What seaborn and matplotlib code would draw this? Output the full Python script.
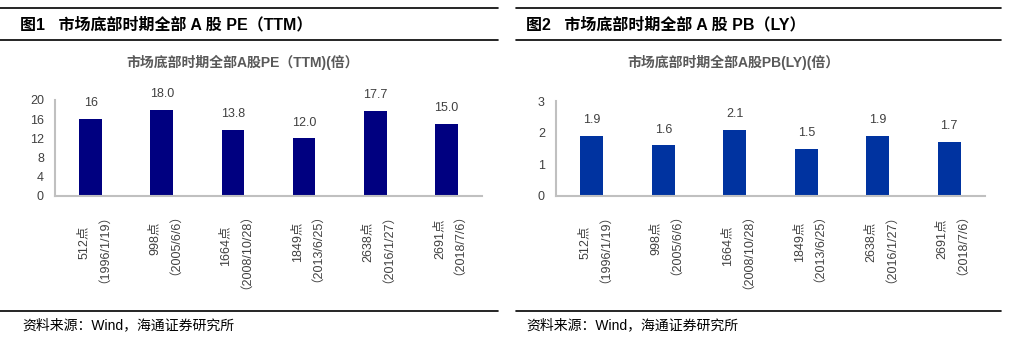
import matplotlib
matplotlib.use("Agg")
import matplotlib.pyplot as plt
import seaborn as sns
import pandas as pd
from matplotlib.lines import Line2D

sns.set_theme(style="white")
plt.rcParams['font.family'] = ['Liberation Sans', 'Noto Sans CJK SC', 'DejaVu Sans']

categories = ["512点\n（1996/1/19）", "998点\n（2005/6/6）", "1664点\n（2008/10/28）",
              "1849点\n（2013/6/25）", "2638点\n（2016/1/27）", "2691点\n（2018/7/6）"]
pe_values = [16, 18.0, 13.8, 12.0, 17.7, 15.0]
pe_labels = ["16", "18.0", "13.8", "12.0", "17.7", "15.0"]
pb_values = [1.9, 1.6, 2.1, 1.5, 1.9, 1.7]
pb_labels = ["1.9", "1.6", "2.1", "1.5", "1.9", "1.7"]
pe_ticks = [0, 4, 8, 12, 16, 20]
pb_ticks = [0, 1, 2, 3]

W, H = 1032, 345
fig = plt.figure(figsize=(W / 100, H / 100), dpi=100)

def px_axes(x0, y_top, x1, y_bot):
    return fig.add_axes([x0 / W, (H - y_bot) / H, (x1 - x0) / W, (y_bot - y_top) / H])

def hline(x0, x1, y, lw=1.2):
    fig.add_artist(Line2D([x0 / W, x1 / W], [(H - y) / H, (H - y) / H],
                          color="black", lw=lw, transform=fig.transFigure))

def panel(ax, values, labels, ticks, color, ymax):
    df = pd.DataFrame({"cat": categories, "val": values})
    sns.barplot(data=df, x="cat", y="val", color=color, width=0.32, ax=ax,
                saturation=1, edgecolor="none")
    ax.set_ylim(0, ymax)
    ax.set_xlim(-0.5, len(categories) - 0.5)
    ax.set_yticks(ticks)
    ax.set_xlabel("")
    ax.set_ylabel("")
    for i, (v, lab) in enumerate(zip(values, labels)):
        ax.annotate(lab, (i, v), xytext=(0, 7), textcoords="offset points",
                    ha="center", va="bottom", fontsize=9, color="#404040")
    for s in ["top", "right"]:
        ax.spines[s].set_visible(False)
    for s in ["left", "bottom"]:
        ax.spines[s].set_color("#c0c0c0")
        ax.spines[s].set_linewidth(1.5)
    ax.tick_params(axis="y", length=0, labelsize=9, labelcolor="#404040", pad=8)
    ax.tick_params(axis="x", which="major", length=0, pad=4)
    ax.set_xticks([i + 0.5 for i in range(-1, len(categories))], minor=True)
    ax.tick_params(axis="x", which="minor", length=4, color="#c0c0c0", width=1.2)
    for t in ax.get_xticklabels():
        t.set_rotation(90)
        t.set_fontsize(9)
        t.set_color("#404040")
        t.set_ha("center")
        t.set_va("top")
        t.set_multialignment("center")
        t.set_linespacing(1.25)

# Left panel
hline(0, 498, 8)
hline(0, 498, 40)
fig.text(20 / W, 1 - 25 / H, "图1   市场底部时期全部 A 股 PE（TTM）", fontsize=11.5,
         fontweight="bold", va="center", ha="left", color="black")
fig.text(243 / W, 1 - 62 / H, "市场底部时期全部A股PE（TTM)(倍）", fontsize=10,
         fontweight="bold", va="center", ha="center", color="#595959")
ax1 = px_axes(55, 100, 482, 196)
panel(ax1, pe_values, pe_labels, pe_ticks, "#000080", 20)
hline(0, 498, 311)
fig.text(22 / W, 1 - 325 / H, "资料来源：Wind，海通证券研究所", fontsize=10,
         va="center", ha="left", color="black")

# Right panel
hline(516, 1001, 8)
hline(516, 1001, 40)
fig.text(526 / W, 1 - 25 / H, "图2   市场底部时期全部 A 股 PB（LY）", fontsize=11.5,
         fontweight="bold", va="center", ha="left", color="black")
fig.text(733 / W, 1 - 62 / H, "市场底部时期全部A股PB(LY)(倍）", fontsize=10,
         fontweight="bold", va="center", ha="center", color="#595959")
ax2 = px_axes(556, 101, 985, 196)
panel(ax2, pb_values, pb_labels, pb_ticks, "#0033A0", 3)
hline(516, 1001, 311)
fig.text(526 / W, 1 - 325 / H, "资料来源：Wind，海通证券研究所", fontsize=10,
         va="center", ha="left", color="black")

fig.savefig("out.png", dpi=100, facecolor="white")
